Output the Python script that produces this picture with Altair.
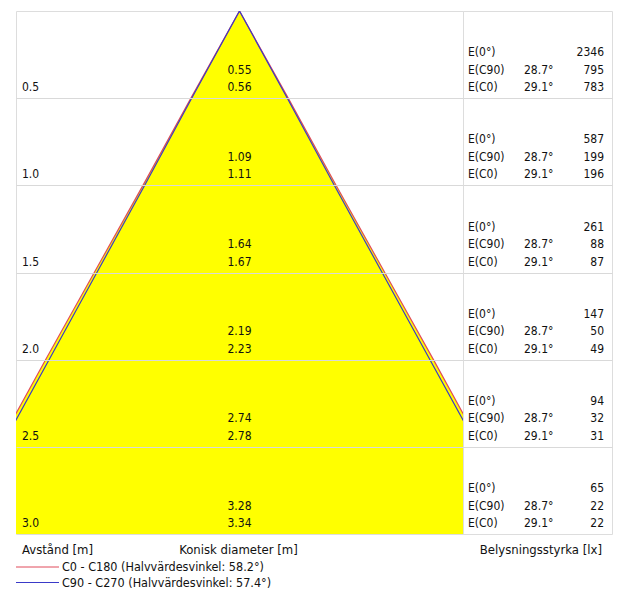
import altair as alt
import pandas as pd

# ---- data ----
distances = [0.5, 1.0, 1.5, 2.0, 2.5, 3.0]
dist_labels = ["0.5", "1.0", "1.5", "2.0", "2.5", "3.0"]
diam_c90 = [0.55, 1.09, 1.64, 2.19, 2.74, 3.28]
diam_c0 = [0.56, 1.11, 1.67, 2.23, 2.78, 3.34]
e_0 = [2346, 587, 261, 147, 94, 65]
e_c90 = [795, 199, 88, 50, 32, 22]
e_c0 = [783, 196, 87, 49, 31, 22]
angle_c90 = "28.7°"
angle_c0 = "29.1°"
half_angle_c0 = "58.2°"
half_angle_c90 = "57.4°"

FONT = "DejaVu Sans Condensed"
FS = 12
TXT = "#111111"
RED = "#e04a5a"
BLUE = "#3a3ac8"
YELLOW = "#ffff00"
GRID = "#d9d9d9"

LW, RW, H = 447, 149, 523

rows = pd.DataFrame({
    "dist": distances,
    "dlab": dist_labels,
    "d90": [f"{v:.2f}" for v in diam_c90],
    "d0": [f"{v:.2f}" for v in diam_c0],
    "e0": [str(v) for v in e_0],
    "e90": [str(v) for v in e_c90],
    "ec0": [str(v) for v in e_c0],
    "l0": "E(0°)",
    "l90": "E(C90)",
    "lc0": "E(C0)",
    "a90": angle_c90,
    "ac0": angle_c0,
})

# cone edges built from the listed diameters (apex at distance 0)
def edge_df(diams, name):
    pts = [{"x": 0.0, "y": 0.0, "s": name}]
    for d, h in zip(diams, distances):
        pts.append({"x": -d / 2, "y": h, "s": name})
        pts.append({"x": d / 2, "y": h, "s": name})
    return pd.DataFrame(pts)

edges_c0 = edge_df(diam_c0, "C0")
edges_c90 = edge_df(diam_c90, "C90")

area_df = pd.DataFrame({
    "y": [0.0] + distances,
    "xl": [0.0] + [-d / 2 for d in diam_c0],
    "xr": [0.0] + [d / 2 for d in diam_c0],
})

yscale = alt.Scale(domain=[0, 3], reverse=True, nice=False, zero=False)
yaxis = alt.Axis(values=[0.5, 1.0, 1.5, 2.0, 2.5], grid=True, labels=False,
                 ticks=False, domain=False, title=None, gridColor=GRID,
                 gridWidth=1, zindex=1)
xscale = alt.Scale(domain=[-1.285, 1.285], nice=False, zero=False)

def Y(field):
    return alt.Y(field, type="quantitative", scale=yscale, axis=yaxis)

def X(field):
    return alt.X(field, type="quantitative", scale=xscale, axis=None)

area = alt.Chart(area_df).mark_area(orient="horizontal", color=YELLOW, clip=True, opacity=1).encode(
    y=Y("y"), x=X("xl"), x2="xr")

line_c0 = alt.Chart(edges_c0).mark_line(color=RED, strokeWidth=1.2, clip=True).encode(
    x=X("x"), y=Y("y"), order="x:Q")
line_c90 = alt.Chart(edges_c90).mark_line(color=BLUE, strokeWidth=1.2, clip=True).encode(
    x=X("x"), y=Y("y"), order="x:Q")

def txt(field, x, dy, align="left", chart_df=rows):
    return alt.Chart(chart_df).mark_text(
        align=align, baseline="alphabetic", dy=dy, font=FONT, fontSize=FS, color=TXT
    ).encode(x=x, y=Y("dist"), text=alt.Text(field, type="nominal"))

row_lab = txt("dlab", alt.value(6), -7)
dia90 = txt("d90", X("zero"), -24.5, align="center").transform_calculate(zero="0")
dia0 = txt("d0", X("zero"), -7, align="center").transform_calculate(zero="0")

def label(text, x, y, align="left", size=FS):
    return alt.Chart(pd.DataFrame({"t": [text]})).mark_text(
        align=align, baseline="middle", font=FONT, fontSize=size, color=TXT
    ).encode(x=x, y=alt.value(y), text="t:N")

lab_avst = label("Avstånd [m]", alt.value(6), 538.5, size=13)
lab_kon = label("Konisk diameter [m]", alt.value(LW / 2 - 1), 538.5, align="center", size=13)

leg1_line = alt.Chart(pd.DataFrame({"a": [0]})).mark_rule(color=RED, strokeWidth=1).encode(
    x=alt.value(0), x2=alt.value(43), y=alt.value(556))
leg2_line = alt.Chart(pd.DataFrame({"a": [0]})).mark_rule(color=BLUE, strokeWidth=1).encode(
    x=alt.value(0), x2=alt.value(43), y=alt.value(571.5))
leg1_txt = label(f"C0 - C180 (Halvvärdesvinkel: {half_angle_c0})", alt.value(46), 556, size=12.5)
leg2_txt = label(f"C90 - C270 (Halvvärdesvinkel: {half_angle_c90})", alt.value(46), 571.5, size=12.5)

left = alt.layer(area, line_c0, line_c90, row_lab, dia90, dia0,
                 lab_avst, lab_kon, leg1_line, leg2_line, leg1_txt, leg2_txt
                 ).properties(width=LW, height=H)

# right table panel
r_l0 = txt("l0", alt.value(5), -42)
r_e0 = txt("e0", alt.value(141), -42, align="right")
r_l90 = txt("l90", alt.value(5), -24.5)
r_a90 = txt("a90", alt.value(61), -24.5)
r_e90 = txt("e90", alt.value(141), -24.5, align="right")
r_lc0 = txt("lc0", alt.value(5), -7)
r_ac0 = txt("ac0", alt.value(61), -7)
r_ec0 = txt("ec0", alt.value(141), -7, align="right")
lab_bel = label("Belysningsstyrka [lx]", alt.value(139), 538.5, align="right", size=13)

right = alt.layer(r_l0, r_e0, r_l90, r_a90, r_e90, r_lc0, r_ac0, r_ec0, lab_bel
                  ).properties(width=RW, height=H)

chart = alt.hconcat(left, right, spacing=0, bounds="flush").properties(
    padding={"left": 7, "top": 2, "right": 0, "bottom": 0}
).configure_view(stroke="#9c9c9c", strokeWidth=1.5).configure(background="white")

chart.save("out.html", embed_options={"renderer": "svg", "actions": False})
